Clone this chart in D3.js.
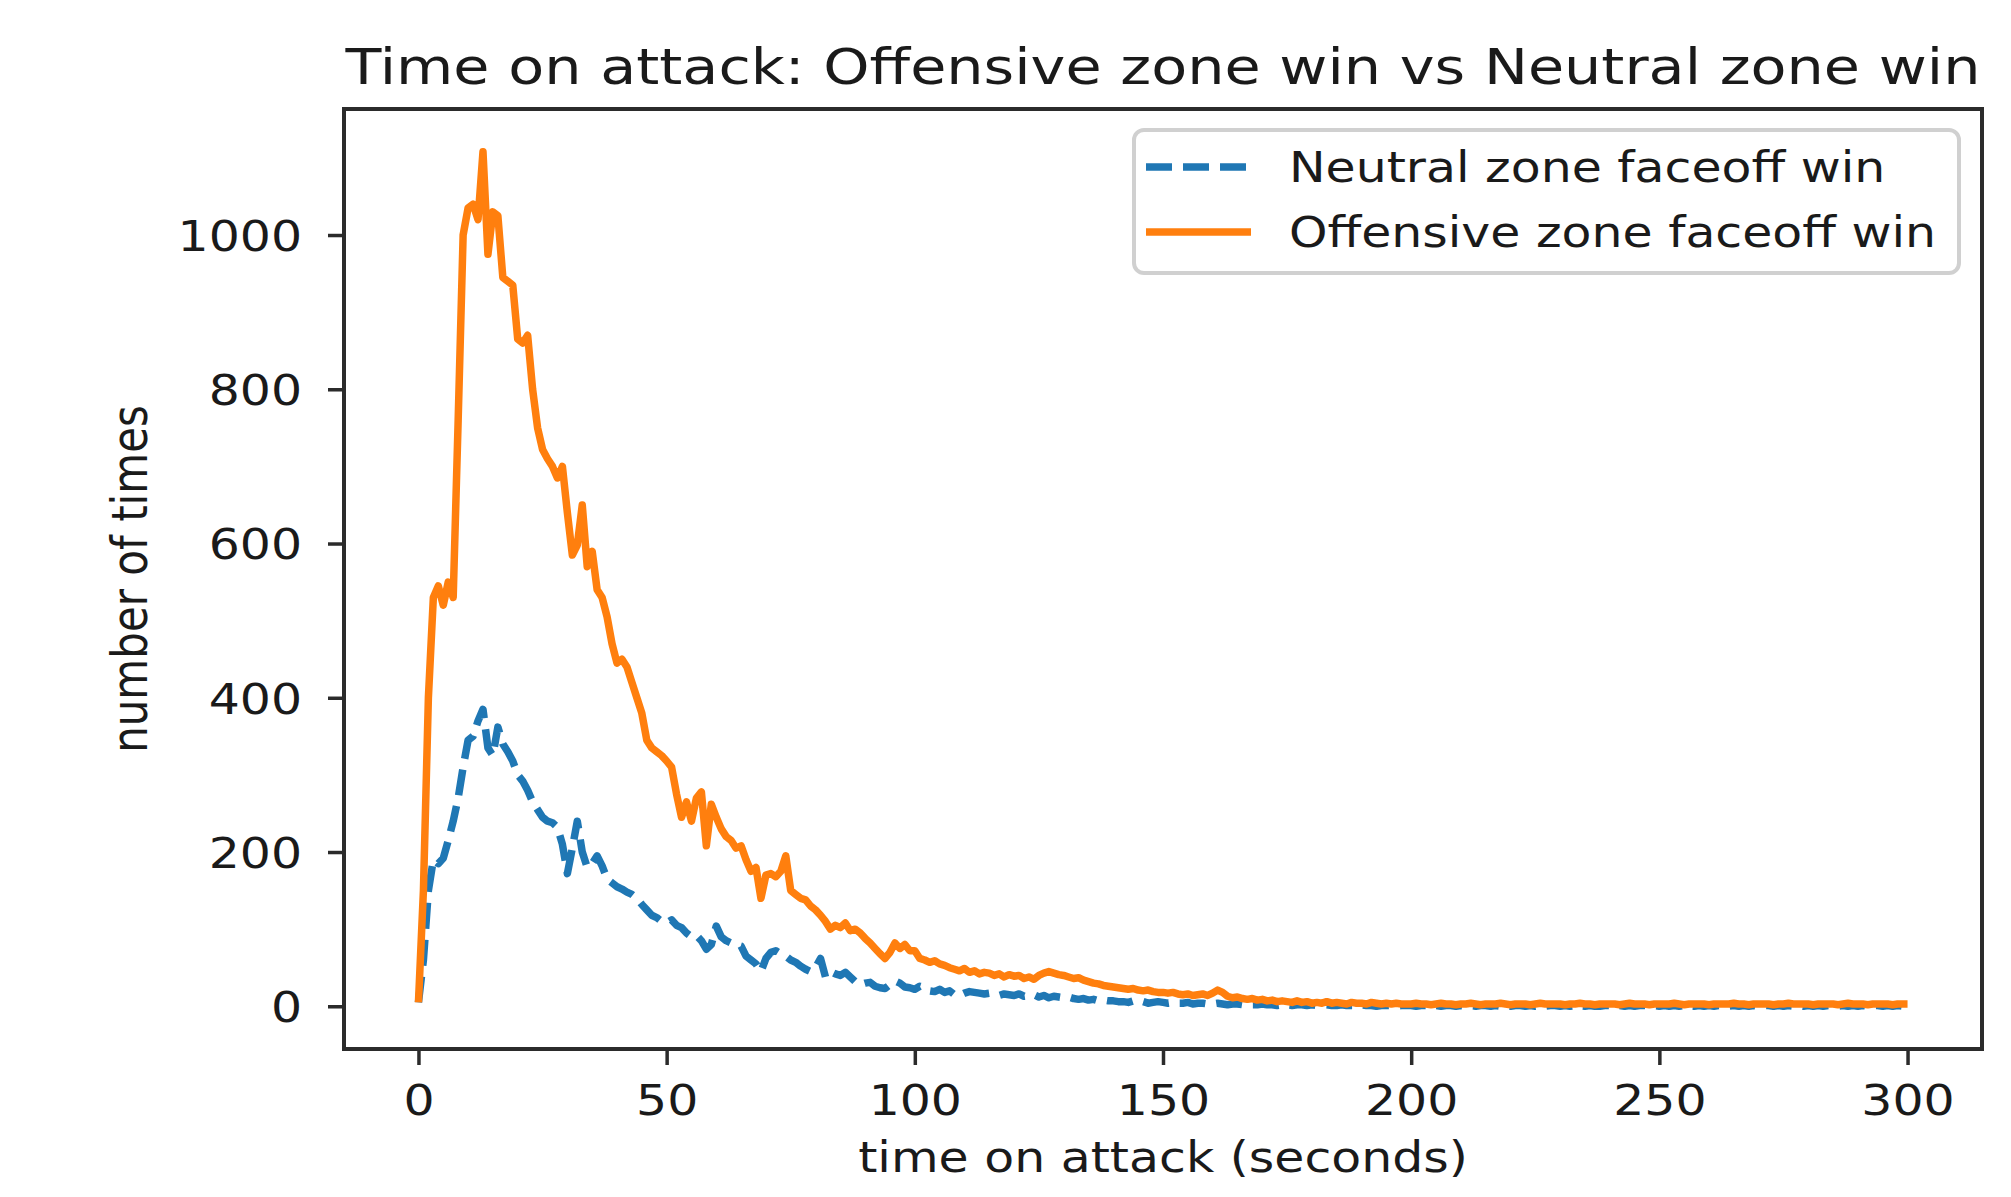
<!DOCTYPE html>
<html>
<head>
<meta charset="utf-8">
<script src="https://d3js.org/d3.v7.min.js"></script>
<style>
  body { margin: 0; background: #fff; }
  text { font-family: "DejaVu Sans", sans-serif; fill: #1a1a1a; }
</style>
</head>
<body>
<div id="chart"></div>
<script>
var svgWidth = 2011;
var svgHeight = 1197;

// plot frame (pixels)
var frame = { left: 344, right: 1982, top: 109, bottom: 1049 };

// the source picture is stretched a bit wider than tall
var stretch = 1.165;

var chartTitle = "Time on attack: Offensive zone win vs Neutral zone win";
var xLabel = "time on attack (seconds)";
var yLabel = "number of times";
var seriesNames = ["Neutral zone faceoff win", "Offensive zone faceoff win"];
var xTicks = [0, 50, 100, 150, 200, 250, 300];
var yTicks = [0, 200, 400, 600, 800, 1000];

// seconds on attack, 0..300
var seconds = d3.range(0, 301);

// counts, one per second
var neutralWin = [
  5, 60, 150, 190, 185, 192, 215, 240, 270, 310,
  345, 350, 370, 385, 335, 325, 362, 340, 330, 318,
  300, 292, 280, 265, 255, 245, 240, 238, 232, 210,
  172, 205, 240, 200, 180, 185, 195, 182, 165, 160,
  155, 152, 148, 145, 140, 132, 125, 118, 115, 110,
  108, 112, 105, 102, 95, 90, 92, 85, 74, 80,
  104, 90, 85, 82, 80, 78, 65, 60, 55, 45,
  62, 70, 72, 68, 65, 60, 57, 52, 48, 45,
  50, 62, 38, 45, 42, 40, 44, 38, 32, 28,
  30, 31, 26, 24, 23, 28, 33, 30, 25, 24,
  22, 26, 24, 20, 19, 22, 18, 20, 15, 14,
  17, 19, 18, 17, 16, 17, 15, 14, 16, 15,
  14, 16, 13, 14, 15, 12, 14, 11, 13, 12,
  11, 12, 10, 9, 10, 8, 9, 7, 8, 7,
  7, 6, 6, 5, 7, 5, 6, 4, 5, 6,
  5, 4, 5, 4, 4, 5, 3, 4, 4, 3,
  3, 4, 3, 2, 3, 3, 2, 3, 2, 2,
  3, 2, 2, 1, 2, 2, 1, 2, 2, 1,
  2, 1, 1, 2, 1, 1, 2, 1, 1, 1,
  2, 1, 1, 0, 1, 1, 1, 0, 1, 1,
  1, 0, 1, 1, 0, 1, 0, 1, 1, 0,
  1, 0, 1, 0, 1, 1, 0, 1, 0, 1,
  0, 1, 1, 0, 1, 0, 1, 0, 1, 1,
  0, 1, 0, 1, 1, 0, 1, 0, 0, 1,
  1, 0, 1, 0, 1, 0, 1, 1, 0, 1,
  0, 1, 0, 1, 0, 1, 1, 0, 1, 0,
  1, 0, 1, 1, 0, 1, 0, 1, 0, 1,
  0, 1, 1, 0, 1, 0, 1, 0, 1, 0,
  1, 0, 1, 0, 1, 1, 0, 1, 0, 1,
  0, 1, 0, 1, 1, 0, 1, 0, 1, 0,
  0
];

var offensiveWin = [
  5, 150, 400, 530, 545, 520, 550, 530, 760, 1000,
  1035, 1040, 1020, 1108, 975, 1030, 1025, 945, 940, 935,
  865, 860, 870, 800, 750, 722, 710, 700, 685, 700,
  640, 585, 598, 650, 570, 590, 540, 530, 505, 470,
  445, 450, 440, 420, 400, 380, 345, 335, 330, 325,
  318, 310, 275, 245, 265, 240, 270, 278, 208, 262,
  245, 230, 220, 215, 205, 208, 190, 175, 180, 140,
  170, 172, 168, 175, 195, 150, 145, 140, 138, 130,
  125, 118, 110, 100, 105, 102, 108, 98, 100, 95,
  88, 82, 75, 68, 62, 70, 82, 75, 80, 72,
  72, 62, 60, 57, 59, 55, 53, 50, 48, 46,
  49, 44, 46, 42, 44, 43, 40, 42, 38, 41,
  39, 40, 36, 38, 35, 40, 43, 45, 43, 41,
  40, 38, 36, 37, 34, 32, 30, 29, 27, 26,
  25, 24, 23, 22, 23, 21, 20, 21, 19, 18,
  18, 17, 18, 16, 15, 16, 14, 15, 16, 14,
  17, 21, 18, 13, 11, 12, 10, 9, 10, 8,
  9, 7, 8, 6, 7, 6, 5, 7, 5, 6,
  4, 5, 4, 6, 4, 5, 4, 3, 5, 4,
  4, 3, 5, 4, 3, 4, 3, 4, 3, 3,
  3, 4, 3, 3, 2, 3, 4, 3, 3, 2,
  3, 3, 4, 3, 2, 3, 3, 3, 4, 3,
  2, 3, 3, 3, 2, 3, 4, 3, 3, 3,
  3, 2, 3, 3, 4, 3, 3, 2, 3, 3,
  3, 3, 2, 3, 4, 3, 3, 3, 2, 3,
  3, 3, 3, 4, 3, 2, 3, 3, 3, 3,
  2, 3, 3, 3, 3, 4, 3, 3, 2, 3,
  3, 3, 3, 2, 3, 3, 4, 3, 3, 3,
  3, 2, 3, 3, 3, 3, 2, 3, 4, 3,
  3, 3, 2, 3, 3, 3, 3, 2, 3, 3,
  3
];

var blue = "#1f77b4";
var orange = "#ff7f0e";
var ink = "#2b2b2b";
var fontSize = 42;
var lineWidth = 7.5;
var dashes = "26,11";

var svg = d3.select("#chart")
  .append("svg")
  .attr("width", svgWidth)
  .attr("height", svgHeight);

svg.append("rect")
  .attr("width", svgWidth)
  .attr("height", svgHeight)
  .attr("fill", "#fff");

// matplotlib-like 5% margins on both axes
var xMin = d3.min(seconds), xMax = d3.max(seconds);
var xPad = (xMax - xMin) * 0.05;
var xScale = d3.scaleLinear()
  .domain([xMin - xPad, xMax + xPad])
  .range([frame.left, frame.right]);

var yMax = d3.max(neutralWin.concat(offensiveWin));
var yPad = yMax * 0.05;
var yScale = d3.scaleLinear()
  .domain([-yPad, yMax + yPad])
  .range([frame.bottom, frame.top]);

// lines
var line = d3.line()
  .x(function(d, i) { return xScale(seconds[i]); })
  .y(function(d) { return yScale(d); });

svg.append("path")
  .datum(neutralWin)
  .attr("d", line)
  .attr("fill", "none")
  .attr("stroke", blue)
  .attr("stroke-width", lineWidth)
  .attr("stroke-dasharray", dashes)
  .attr("stroke-linejoin", "round");

svg.append("path")
  .datum(offensiveWin)
  .attr("d", line)
  .attr("fill", "none")
  .attr("stroke", orange)
  .attr("stroke-width", lineWidth)
  .attr("stroke-linejoin", "round");

// axes
var xAxis = svg.append("g")
  .attr("transform", `translate(0, ${frame.bottom})`)
  .call(d3.axisBottom(xScale).tickValues(xTicks).tickFormat(d3.format("d"))
    .tickSize(16).tickSizeOuter(0));

var yAxis = svg.append("g")
  .attr("transform", `translate(${frame.left}, 0)`)
  .call(d3.axisLeft(yScale).tickValues(yTicks).tickFormat(d3.format("d"))
    .tickSize(16).tickSizeOuter(0));

[xAxis, yAxis].forEach(function(ax) {
  ax.select(".domain").remove();
  ax.selectAll(".tick line")
    .attr("stroke", ink)
    .attr("stroke-width", 3.5);
  ax.selectAll(".tick text")
    .style("font-family", "DejaVu Sans")
    .style("font-size", fontSize + "px")
    .attr("fill", "#1a1a1a");
});

xAxis.selectAll(".tick text")
  .attr("y", 66)
  .attr("dy", null)
  .attr("transform", `scale(${stretch},1)`);

yAxis.selectAll(".tick text")
  .attr("x", -42 / stretch)
  .attr("dy", null)
  .attr("y", fontSize * 0.3645)
  .attr("transform", `scale(${stretch},1)`);

// frame
svg.append("rect")
  .attr("x", frame.left)
  .attr("y", frame.top)
  .attr("width", frame.right - frame.left)
  .attr("height", frame.bottom - frame.top)
  .attr("fill", "none")
  .attr("stroke", ink)
  .attr("stroke-width", 4);

// title and axis labels
var midX = (frame.left + frame.right) / 2;
var midY = (frame.top + frame.bottom) / 2;

svg.append("text")
  .attr("transform", `translate(${midX}, 84) scale(${stretch},1)`)
  .attr("text-anchor", "middle")
  .style("font-size", "50.5px")
  .text(chartTitle);

svg.append("text")
  .attr("transform", `translate(${midX}, 1172) scale(${stretch},1)`)
  .attr("text-anchor", "middle")
  .style("font-size", fontSize + "px")
  .text(xLabel);

svg.append("text")
  .attr("transform", `translate(147, ${midY}) scale(${stretch},1) rotate(-90)`)
  .attr("text-anchor", "middle")
  .style("font-size", fontSize + "px")
  .text(yLabel);

// legend
var legend = svg.append("g");

legend.append("rect")
  .attr("x", 1134)
  .attr("y", 130)
  .attr("width", 825)
  .attr("height", 143)
  .attr("rx", 10)
  .attr("fill", "#fff")
  .attr("fill-opacity", 0.8)
  .attr("stroke", "#d0d0d0")
  .attr("stroke-width", 4);

var legendRows = [
  { name: seriesNames[0], color: blue, dash: dashes, y: 167 },
  { name: seriesNames[1], color: orange, dash: null, y: 232 }
];

legendRows.forEach(function(row) {
  legend.append("line")
    .attr("x1", 1146)
    .attr("x2", 1251)
    .attr("y1", row.y)
    .attr("y2", row.y)
    .attr("stroke", row.color)
    .attr("stroke-width", lineWidth)
    .attr("stroke-dasharray", row.dash);

  legend.append("text")
    .attr("transform", `translate(1289, ${row.y + fontSize * 0.3645}) scale(${stretch},1)`)
    .style("font-size", fontSize + "px")
    .text(row.name);
});
</script>
</body>
</html>
